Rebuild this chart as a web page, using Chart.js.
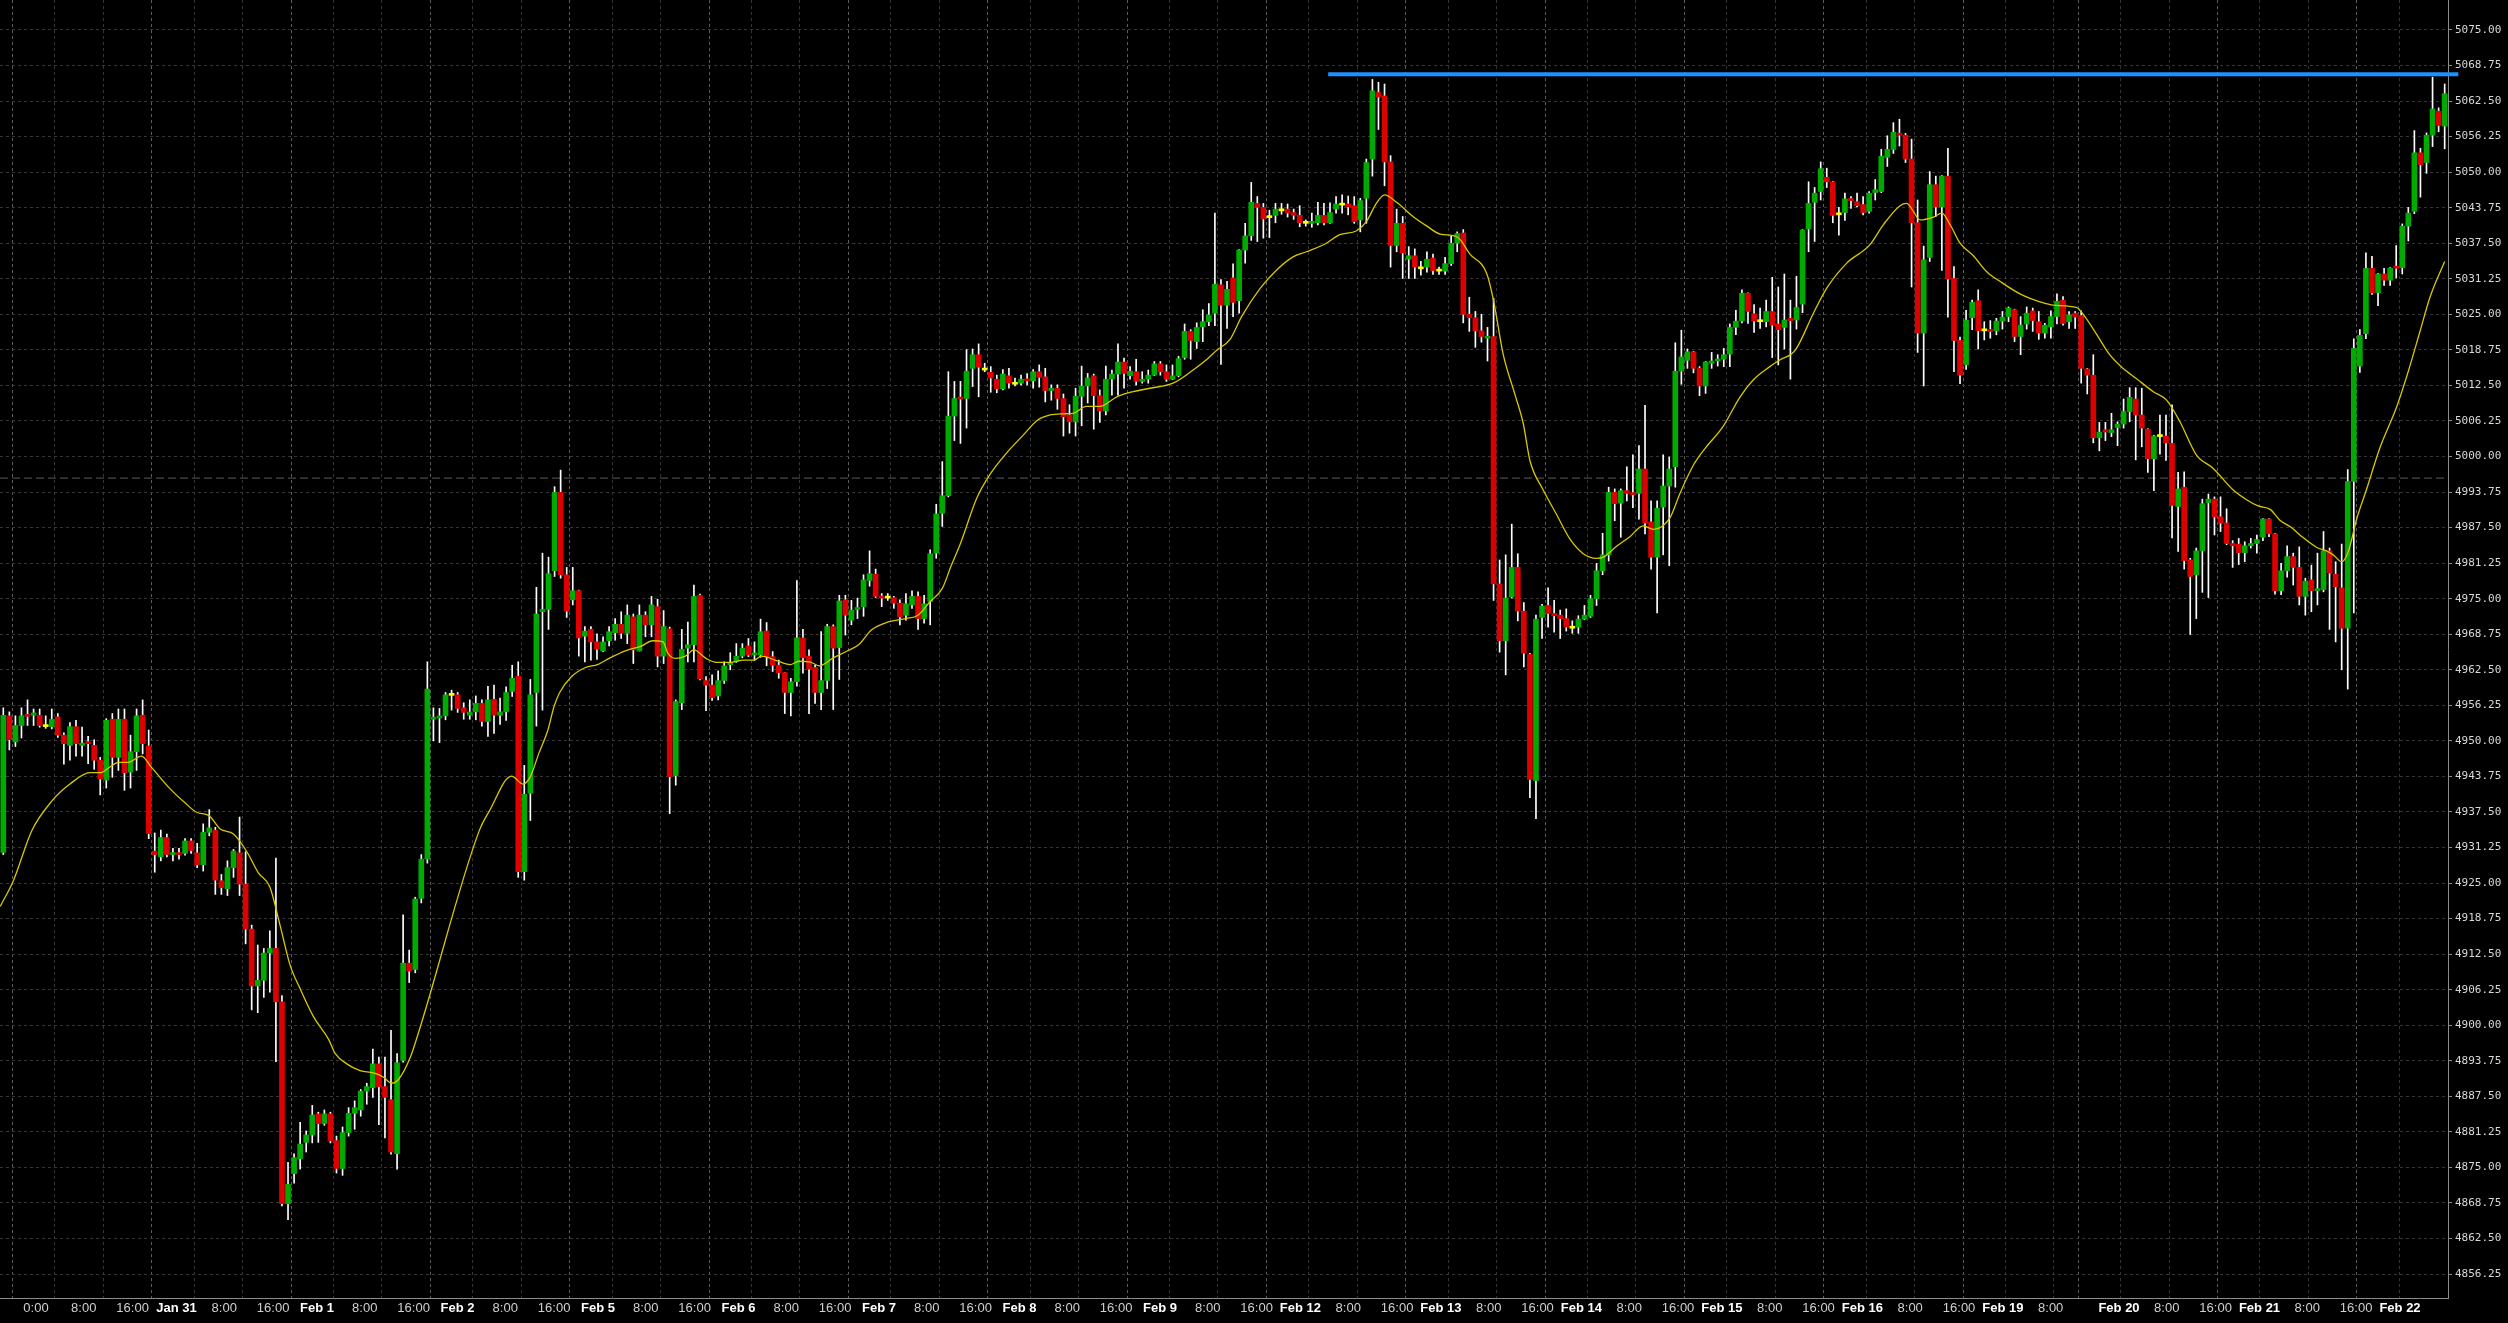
<!DOCTYPE html>
<html>
<head>
<meta charset="utf-8">
<script src="https://cdn.jsdelivr.net/npm/chart.js@4.4.0/dist/chart.umd.min.js"></script>
<style>
  html, body { margin: 0; padding: 0; background: #000; }
  canvas { display: block; background: #000; }
</style>
</head>
<body>
<canvas id="chart" width="2508" height="1323"></canvas>
<script>
// hourly candles, one row per session (first row also holds the two bars before Jan 30)
var opens = [
  4930.4,4954.4,4949.8,4952.7,4954.5,4954.5,4954.5,4952.5,4952.5,4954.2,4951.0,4949.2,4952.5,4949.2,4949.8,4949.2,4946.6,4943.1,4953.8,4947.1,4953.8,4944.5,4948.1,4954.5,4949.1,
  4930.6,4929.6,4933.0,4930.0,4930.3,4930.2,4932.4,4930.3,4928.2,4933.9,4934.3,4925.4,4924.0,4927.7,4930.3,4924.8,4916.9,4906.9,4907.9,4912.7,4913.5,4904.1,4868.6,
  4873.9,4876.5,4879.4,4880.7,4884.4,4882.7,4884.4,4879.7,4874.8,4881.1,4884.5,4885.1,4888.4,4889.0,4893.2,4889.2,4886.9,4877.4,4893.8,4910.9,4909.8,4922.3,4929.2,
  4953.8,4954.0,4954.4,4958.0,4958.1,4955.8,4954.5,4955.1,4956.6,4953.4,4957.3,4954.5,4955.1,4958.7,4961.4,4927.0,4940.8,4958.5,4972.7,4973.1,4979.9,4993.7,4979.2,
  4974.8,4976.4,4968.4,4969.6,4967.4,4965.8,4967.6,4969.0,4970.5,4968.9,4971.8,4965.8,4972.1,4970.4,4973.6,4964.9,4969.7,4943.9,4956.7,4966.3,4966.9,4975.6,4960.6,
  4959.8,4957.9,4960.6,4963.4,4964.0,4964.9,4966.7,4965.1,4965.1,4969.3,4964.8,4963.3,4962.0,4958.5,4960.4,4968.1,4964.9,4962.9,4958.5,4960.6,4970.1,4966.4,4974.8,
  4971.2,4973.1,4973.6,4978.2,4979.3,4975.4,4975.1,4975.2,4974.2,4972.1,4973.9,4975.4,4971.5,4974.5,4983.0,4990.0,4993.1,5007.1,5010.4,5010.2,5015.5,5017.9,5015.2,
  5014.8,5013.6,5011.9,5014.2,5012.7,5012.9,5013.6,5013.3,5014.9,5014.0,5011.6,5012.0,5010.2,5007.3,5006.1,5010.6,5012.4,5014.2,5010.7,5008.0,5013.6,5014.5,5016.6,
  5014.2,5014.9,5013.2,5013.6,5014.3,5016.3,5014.9,5013.6,5014.2,5017.4,5022.0,5020.2,5022.8,5023.7,5025.2,5030.2,5026.6,5031.4,5027.4,5036.3,5038.8,5044.5,5043.8,
  5042.0,5042.4,5043.2,5043.5,5042.9,5042.4,5041.0,5041.0,5041.1,5042.4,5041.1,5043.5,5044.2,5044.4,5044.1,5041.6,5045.4,5052.3,5064.0,5063.4,5051.8,5037.1,5041.0,
  5034.7,5035.3,5033.0,5033.3,5034.9,5032.6,5032.6,5033.9,5037.5,5039.3,5025.0,5024.4,5022.1,5020.8,5021.1,4977.6,4967.6,4975.3,4980.5,4972.8,4965.2,4943.0,4971.7,
  4973.8,4972.4,4972.1,4971.5,4969.8,4970.0,4971.4,4971.9,4975.0,4979.9,4982.7,4993.7,4991.8,4994.0,4993.5,4993.5,4997.8,4988.5,4982.3,4991.1,4994.8,4998.2,5015.0,
  5016.9,5018.4,5015.5,5012.4,5016.4,5016.8,5017.1,5018.0,5022.7,5023.8,5028.7,5025.1,5023.7,5023.7,5025.5,5023.3,5022.7,5024.3,5024.0,5026.8,5040.0,5044.7,5046.6,
  5049.1,5048.3,5042.5,5042.9,5045.3,5044.8,5044.3,5043.1,5046.4,5046.6,5052.6,5054.0,5056.8,5056.5,5052.3,5041.1,5021.7,5035.0,5047.8,5043.9,5049.3,5031.3,5020.4,
  5016.1,5024.4,5027.4,5022.1,5022.3,5022.1,5023.8,5024.6,5025.8,5021.1,5023.3,5025.6,5023.7,5021.7,5022.8,5024.6,5027.5,5023.7,5025.2,
  5024.8,5015.4,5014.3,5003.3,5004.7,5004.2,5005.1,5005.7,5007.9,5010.1,5007.3,5004.8,4999.6,5003.5,5003.6,5002.3,4991.2,4994.6,4981.8,4979.2,4983.4,4991.9,4992.5,
  4989.4,4988.3,4984.7,4984.6,4983.1,4984.3,4984.7,4985.8,4989.0,4986.4,4976.4,4979.9,4982.4,4980.5,4975.4,4978.3,4976.4,4976.6,4983.4,4979.3,4976.9,4969.8,4995.6,
  5015.9,5021.6,5033.1,5028.8,5032.1,5031.0,5033.4,5033.2,5040.5,5043.1,5053.4,5051.7,5056.5,5060.7,5058.1
];
var highs = [
  4955.8,4955.1,4954.4,4955.8,4957.2,4955.6,4955.6,4954.4,4955.6,4954.8,4951.4,4953.2,4953.6,4952.4,4950.8,4950.2,4947.1,4953.9,4954.8,4955.6,4955.6,4951.0,4955.6,4957.2,4951.9,
  4933.8,4934.3,4933.6,4931.1,4931.1,4932.8,4932.8,4932.0,4935.4,4937.9,4934.8,4926.5,4928.9,4930.9,4936.6,4930.5,4917.6,4914.1,4913.5,4916.6,4929.4,4905.2,4875.9,
  4877.4,4882.9,4881.4,4885.9,4884.7,4885.1,4884.7,4880.5,4882.1,4885.5,4886.7,4888.7,4889.8,4895.8,4894.4,4894.4,4899.1,4895.0,4919.4,4913.2,4922.5,4930.0,4963.9,
  4955.8,4955.7,4958.5,4958.9,4958.5,4956.7,4957.2,4957.9,4957.2,4959.6,4959.8,4957.5,4959.5,4963.3,4963.9,4945.7,4960.8,4977.0,4983.0,4982.3,4994.7,4997.6,4980.5,
  4980.5,4976.5,4970.1,4970.1,4968.8,4968.3,4970.1,4971.5,4972.7,4973.9,4972.3,4973.9,4972.7,4975.4,4974.9,4972.9,4970.0,4957.2,4969.6,4970.9,4977.4,4975.8,4961.3,
  4961.6,4962.3,4963.9,4965.5,4967.1,4967.1,4968.0,4967.4,4971.4,4970.8,4965.7,4964.2,4962.0,4961.0,4978.2,4969.6,4966.0,4963.3,4969.2,4970.5,4970.4,4975.6,4975.6,
  4974.7,4975.1,4979.2,4983.4,4980.2,4975.9,4975.9,4975.4,4974.8,4975.9,4976.4,4976.2,4975.6,4983.6,4991.6,4999.1,5014.9,5013.2,5013.2,5018.8,5018.9,5019.8,5016.4,
  5015.8,5014.3,5015.3,5015.5,5013.8,5014.3,5014.6,5015.3,5016.1,5015.5,5012.6,5012.6,5011.0,5009.1,5012.0,5015.9,5014.6,5014.5,5011.7,5015.9,5015.2,5019.8,5017.3,
  5015.8,5017.1,5014.9,5015.2,5016.7,5016.7,5016.1,5016.1,5017.6,5023.3,5022.3,5023.5,5025.8,5026.9,5042.8,5031.1,5030.8,5033.9,5036.4,5041.0,5048.2,5045.7,5044.5,
  5043.3,5044.5,5044.5,5044.4,5043.5,5044.1,5041.6,5042.8,5044.7,5044.5,5044.6,5045.7,5046.0,5045.8,5045.7,5045.4,5052.3,5066.3,5065.8,5065.5,5052.9,5043.5,5042.2,
  5036.9,5036.5,5034.3,5036.0,5035.6,5033.3,5035.0,5038.8,5039.5,5039.9,5028.0,5025.5,5025.0,5022.7,5027.8,4981.8,4982.7,4988.1,4982.9,4974.3,4965.4,4972.1,4974.0,
  4976.9,4974.7,4973.0,4973.2,4971.1,4972.0,4973.8,4975.6,4981.2,4986.5,4994.6,4994.3,4994.3,4998.2,5000.3,5001.9,5009.0,4992.2,4992.2,5000.3,4999.9,5020.0,5022.2,
  5018.9,5018.5,5015.8,5016.7,5018.3,5017.9,5019.0,5023.3,5025.7,5029.3,5028.8,5026.7,5026.1,5027.5,5031.5,5029.8,5032.1,5027.5,5031.7,5039.9,5048.3,5047.3,5051.8,
  5050.7,5048.4,5043.8,5046.3,5045.7,5046.3,5045.7,5046.6,5048.7,5054.0,5056.4,5058.7,5059.3,5056.8,5055.8,5045.1,5037.0,5050.1,5049.3,5049.4,5054.2,5033.4,5021.0,
  5025.7,5027.5,5029.3,5023.7,5023.9,5024.3,5025.5,5026.3,5025.9,5024.6,5026.3,5026.1,5025.5,5023.4,5025.6,5028.6,5028.1,5025.5,5025.5,
  5025.6,5015.5,5017.9,5006.0,5006.0,5007.6,5006.1,5010.1,5012.1,5012.1,5012.0,5004.9,5003.7,5007.3,5007.3,5009.1,4997.2,4997.3,4982.1,4983.9,4992.5,4993.4,4992.9,
  4992.9,4990.8,4985.2,4985.6,4985.0,4985.6,4986.2,4989.1,4989.1,4986.5,4981.2,4984.3,4983.0,4984.1,4978.6,4980.9,4983.0,4986.8,4983.9,4981.5,4984.6,4997.7,5020.7,
  5022.3,5035.8,5035.2,5032.2,5033.1,5033.2,5037.1,5040.9,5043.8,5057.3,5054.2,5056.9,5066.7,5061.3,5065.5
];
var lows = [
  4930.0,4948.4,4949.0,4950.5,4952.7,4952.7,4952.4,4952.2,4952.1,4950.6,4945.9,4946.6,4947.3,4947.3,4946.0,4945.0,4940.5,4941.7,4943.6,4944.8,4941.3,4941.7,4944.8,4947.7,4932.8,
  4926.9,4928.9,4929.6,4928.9,4929.2,4929.9,4930.2,4927.7,4927.1,4933.3,4923.0,4923.0,4922.8,4926.0,4922.8,4914.3,4902.7,4902.2,4904.9,4905.8,4893.6,4868.2,4865.8,
  4872.2,4874.7,4877.7,4879.3,4879.4,4882.4,4879.3,4874.0,4873.6,4880.5,4881.7,4884.0,4886.1,4887.3,4882.5,4880.2,4877.3,4874.7,4893.5,4907.5,4909.2,4921.5,4928.5,
  4950.0,4949.7,4953.7,4955.4,4955.0,4953.8,4953.8,4953.7,4952.6,4950.8,4951.3,4952.9,4953.6,4957.8,4926.0,4925.5,4936.0,4952.6,4955.4,4969.6,4978.9,4978.6,4971.7,
  4973.9,4964.9,4963.9,4964.2,4964.3,4965.7,4966.7,4967.7,4968.0,4967.1,4963.6,4965.8,4968.3,4968.3,4963.0,4963.6,4937.2,4942.2,4955.5,4963.9,4963.9,4960.7,4955.3,
  4957.1,4957.2,4960.1,4962.5,4963.8,4964.6,4964.8,4964.2,4964.7,4963.2,4962.2,4961.0,4954.8,4954.4,4959.6,4961.9,4954.8,4956.6,4955.5,4959.2,4955.5,4960.8,4968.6,
  4970.4,4971.5,4971.9,4977.2,4975.2,4973.6,4974.7,4973.3,4970.4,4971.2,4973.3,4969.6,4970.7,4970.4,4982.1,4987.7,4992.9,5002.8,5002.3,5005.0,5012.3,5010.5,5014.9,
  5011.3,5011.2,5011.7,5012.0,5012.4,5012.6,5012.6,5012.0,5012.2,5009.6,5009.9,5008.3,5003.6,5004.1,5003.6,5005.4,5009.4,5004.8,5006.0,5007.3,5010.8,5010.8,5012.0,
  5013.6,5012.6,5012.9,5012.9,5014.2,5014.3,5013.2,5013.5,5014.0,5017.1,5017.1,5019.0,5020.2,5023.0,5023.0,5016.2,5022.5,5024.6,5025.2,5034.0,5038.0,5037.8,5038.4,
  5038.5,5041.1,5042.6,5042.1,5041.7,5040.4,5040.5,5040.3,5040.7,5040.7,5041.0,5042.8,5042.8,5042.5,5041.0,5039.5,5041.0,5049.3,5057.5,5047.6,5033.3,5036.0,5031.3,
  5031.3,5031.3,5031.9,5032.4,5032.0,5032.0,5032.0,5033.6,5036.0,5023.5,5022.0,5019.2,5020.1,5016.8,4974.7,4965.6,4961.6,4975.1,4971.1,4963.0,4940.0,4936.3,4968.0,
  4970.0,4969.1,4968.0,4969.3,4968.9,4968.9,4971.3,4971.7,4973.8,4979.2,4981.6,4988.7,4985.8,4992.2,4991.0,4989.0,4986.4,4980.2,4972.5,4982.7,4980.8,4994.6,5012.7,
  5015.5,5014.7,5010.7,5011.1,5015.5,5015.9,5015.8,5015.8,5021.4,5023.5,5023.4,5021.8,5022.5,5022.8,5017.4,5016.1,5018.9,5013.6,5022.4,5025.3,5036.0,5037.8,5045.1,
  5047.3,5041.1,5038.9,5041.5,5043.6,5043.9,5042.5,5042.8,5045.1,5046.4,5051.0,5053.3,5054.6,5051.7,5029.8,5018.3,5012.4,5034.3,5042.2,5032.7,5024.5,5014.9,5012.8,
  5015.3,5022.3,5018.9,5020.5,5020.8,5021.4,5022.4,5023.7,5020.2,5017.9,5022.4,5022.0,5020.6,5020.8,5020.8,5023.3,5023.1,5022.5,5022.5,
  5012.9,5011.0,5002.4,5001.0,5002.8,5003.5,5001.9,5005.0,5006.1,4999.4,5001.7,4997.2,4994.0,5000.4,4999.3,4985.7,4983.3,4980.2,4968.7,4971.5,4976.1,4975.2,4986.2,
  4986.8,4984.5,4980.5,4981.0,4981.5,4983.9,4983.0,4985.2,4985.9,4975.8,4975.7,4978.8,4977.4,4973.9,4972.1,4972.7,4973.9,4976.2,4969.6,4967.4,4962.5,4959.1,4972.5,
  5014.8,5020.7,5028.5,5026.5,5030.1,5030.1,5031.4,5032.1,5037.9,5042.7,5045.6,5049.8,5054.5,5057.1,5054.1
];
var closes = [
  4954.5,4950.2,4952.7,4954.4,4954.3,4954.9,4952.7,4952.5,4953.8,4951.0,4949.5,4952.5,4949.5,4949.6,4949.5,4946.6,4943.3,4953.6,4947.1,4953.8,4944.4,4948.1,4954.4,4949.5,4933.7,
  4930.0,4933.0,4930.0,4930.3,4930.0,4932.4,4930.7,4928.2,4933.9,4934.7,4925.5,4924.2,4927.7,4930.6,4924.8,4916.9,4906.9,4907.9,4912.7,4913.5,4904.1,4868.6,4872.0,
  4876.7,4879.1,4880.7,4884.2,4882.7,4884.4,4879.7,4874.8,4881.1,4884.5,4885.5,4888.4,4889.2,4893.2,4889.2,4887.3,4877.7,4893.4,4910.9,4909.5,4922.2,4929.2,4959.1,
  4954.1,4954.4,4958.1,4958.0,4955.7,4955.0,4955.1,4956.6,4953.4,4957.2,4954.5,4955.1,4958.5,4961.0,4927.0,4940.6,4958.1,4972.3,4973.1,4979.4,4993.7,4979.2,4972.8,
  4976.4,4968.1,4969.3,4967.4,4966.1,4967.4,4969.2,4970.5,4968.9,4972.1,4966.0,4972.1,4970.4,4973.9,4964.9,4970.1,4943.7,4956.9,4966.1,4966.9,4975.4,4960.9,4959.8,
  4957.6,4960.6,4963.2,4963.8,4964.9,4966.3,4965.1,4965.4,4969.2,4964.8,4963.3,4962.0,4958.5,4960.4,4968.1,4964.6,4962.6,4958.5,4960.6,4970.1,4966.3,4974.6,4972.1,
  4973.0,4973.4,4978.3,4979.4,4975.4,4975.1,4975.1,4974.2,4971.8,4974.1,4975.4,4971.5,4974.1,4982.9,4989.9,4993.1,5007.1,5010.2,5010.1,5015.0,5017.9,5015.7,5015.2,
  5013.8,5011.9,5014.5,5012.9,5012.7,5013.6,5013.3,5014.9,5013.9,5011.6,5012.0,5010.2,5007.0,5006.1,5010.6,5012.4,5013.8,5010.7,5008.0,5013.6,5014.5,5016.6,5014.6,
  5015.0,5013.2,5013.6,5014.3,5016.3,5014.9,5013.6,5014.2,5017.2,5022.0,5020.4,5022.7,5023.7,5024.9,5030.3,5026.6,5029.4,5027.1,5036.3,5038.8,5044.7,5043.8,5041.8,
  5042.0,5043.5,5043.2,5042.8,5042.4,5041.1,5041.0,5041.3,5042.4,5041.1,5042.9,5044.4,5044.2,5043.9,5041.3,5045.0,5051.7,5064.3,5063.2,5051.8,5037.1,5041.0,5035.8,
  5035.3,5033.3,5033.0,5034.7,5032.7,5032.6,5033.9,5037.5,5039.2,5025.0,5024.4,5022.1,5021.1,5021.1,4977.6,4967.6,4975.1,4980.5,4972.8,4965.4,4943.2,4971.4,4973.7,
  4972.4,4972.0,4971.5,4970.0,4969.8,4971.4,4972.1,4975.0,4979.9,4982.7,4993.7,4991.7,4994.0,4993.5,4993.3,4997.8,4988.3,4982.3,4990.9,4994.8,4997.8,5015.0,5017.5,
  5018.4,5015.5,5012.4,5016.6,5016.8,5017.1,5017.9,5022.7,5023.8,5028.7,5025.5,5023.8,5023.7,5025.5,5023.1,5022.3,5024.0,5023.9,5026.2,5039.8,5044.5,5046.3,5050.6,
  5048.3,5042.4,5042.5,5045.3,5045.0,5044.1,5042.9,5046.3,5046.9,5052.8,5054.0,5057.0,5056.5,5052.3,5041.1,5021.7,5034.6,5047.8,5043.9,5049.3,5031.2,5020.4,5014.3,
  5024.0,5027.1,5022.1,5022.1,5022.0,5023.8,5024.5,5026.1,5021.1,5023.1,5025.2,5023.9,5021.7,5023.1,5024.6,5027.3,5023.4,5024.9,5024.5,
  5015.5,5014.3,5003.3,5004.3,5004.3,5004.7,5005.7,5007.9,5010.4,5007.3,5005.0,4999.6,5003.6,5003.5,5002.4,4991.4,4994.3,4981.7,4978.9,4983.4,4991.7,4992.5,4989.4,
  4988.3,4984.7,4984.3,4983.1,4984.3,4984.7,4985.4,4989.0,4986.4,4976.4,4979.9,4982.4,4980.5,4975.4,4978.1,4976.4,4976.6,4983.4,4979.5,4977.1,4969.8,4995.6,5019.0,
  5021.3,5033.1,5028.8,5032.1,5031.0,5033.1,5033.1,5040.5,5042.8,5053.4,5051.3,5056.5,5061.1,5058.2,5063.8
];

// yellow moving average at these bar positions
var maBars = [
  -0.5,1.7,4.7,8,11,14.3,16,17.6,19,20.6,22.8,24.5,27.5,30,32,33.9,35.8,38,40.2,42.1,44,45.7,47.3,49,51.2,53.7,54.8,56.7,58.9,61.1,62.7,64.1,65.2,67.2,68.8,
  78.6,80.2,83.9,85.8,87,88.4,89.9,90.9,91.8,93.8,96.1,98.1,100,102.9,105.2,107.2,108.9,109.7,110.9,112.6,114,116,117.7,120.2,122.2,124,125.1,127.4,129.9,131.3,133.1,134.7,137,139.3,141.3,143.3,146.1,149,151,153,155,156.4,158,
  160.7,162.9,165.6,168.4,170.6,172.8,175,176.6,178.8,181,183.8,186.5,189.3,193.1,196.4,198.6,200.3,202.5,204.4,207.5,210.2,212.9,215.1,218.4,220.6,223.4,225,226.7,228,230,
  232.8,235,237.2,240,242.1,244.9,246,247.6,249.5,250.9,252,254.2,256.4,258.6,260.8,263,264.1,266.3,268.5,270.7,272.4,275.1,276.8,279,
  280.9,283.9,286.7,288.9,291.6,293.3,295.8,298.8,301,304.3,308.1,310.3,313.1,314.2,315,316.4,318.6,320,321.4,323,325.2,327.4,329.6,
  332.9,336.2,338.4,342.2,343.6,345.6,347.7,349.9,352.1,354.9,357.1,359.3,362,364.8,368.1,370.3,372.2,374.2,375.8,377.7,379.1,381.9,383.5,384.6,386,
  387.1,388.5,390.1,392.3,395.1,397,398.9,400.6,403
];
var maValues = [
  4920.9,4925.5,4934.2,4939.4,4942.4,4944.4,4944.4,4945.4,4946.2,4946.2,4947.3,4945.3,4941.6,4939.1,4937.4,4936.9,4934.5,4933.6,4930.5,4926.8,4924.3,4917.5,4910.7,4906.4,4901.5,4897.5,4895.0,4893.2,4892.0,4891.6,4890.9,4889.8,4890.4,4894.4,4899.6,
  4934.3,4937.6,4943.8,4942.4,4943.7,4947.8,4951.9,4956.0,4958.4,4961.3,4962.9,4963.4,4964.5,4965.9,4966.6,4967.6,4967.4,4965.4,4964.5,4964.9,4966.0,4964.5,4963.8,4963.8,4964.2,4964.2,4964.9,4964.2,4963.4,4964.0,4963.9,4963.2,4964.6,4965.8,4967.0,4969.5,4970.9,4971.5,4972.1,4974.5,4976.8,4980.6,4984.7,
  4992.7,4996.9,5000.6,5003.8,5006.3,5007.3,5007.5,5007.6,5008.8,5008.8,5010.5,5011.4,5012.0,5012.9,5015.2,5017.0,5018.7,5020.6,5024.6,5029.6,5032.8,5035.1,5036.0,5037.5,5039.0,5039.7,5041.3,5044.6,5046.0,5044.7,
  5042.1,5040.5,5039.1,5038.6,5035.6,5032.1,5027.4,5017.9,5011.0,5005.8,4999.3,4994.1,4989.8,4985.5,4982.9,4982.1,4982.3,4984.2,4985.9,4987.8,4987.2,4989.2,4993.6,4998.5,
  5001.4,5005.3,5010.5,5013.5,5015.8,5017.0,5018.7,5025.2,5029.6,5034.0,5037.2,5040.7,5044.1,5044.5,5043.6,5041.6,5042.1,5042.8,5040.7,5037.5,5035.3,5032.5,5030.8,
  5028.6,5027.2,5026.6,5026.2,5024.6,5021.4,5017.9,5015.5,5013.7,5011.4,5009.9,5006.1,5000.3,4997.9,4994.1,4992.4,4991.3,4990.7,4988.8,4987.5,4986.2,4984.0,4983.4,4982.7,4981.5,
  4983.3,4989.1,4994.2,5001.5,5008.8,5015.0,5021.9,5028.1,5034.3
];

// time axis: first bar of each session, and the 8:00 / 16:00 bars
var dayStarts = [2, 25, 48, 71, 94, 117, 140, 163, 186, 209, 232, 255, 278, 301, 324, 343, 366, 389];
var dayLabels = ["0:00", "Jan 31", "Feb 1", "Feb 2", "Feb 5", "Feb 6", "Feb 7", "Feb 8", "Feb 9",
                 "Feb 12", "Feb 13", "Feb 14", "Feb 15", "Feb 16", "Feb 19", "Feb 20", "Feb 21", "Feb 22"];
var hourTicks = [9, 17, 32, 40, 55, 63, 78, 86, 101, 109, 124, 132, 147, 155, 170, 178, 193, 201, 216, 224,
                 239, 247, 262, 270, 285, 293, 308, 316, 331, 350, 358, 373, 381];
var hourLabels = ["8:00", "16:00", "8:00", "16:00", "8:00", "16:00", "8:00", "16:00", "8:00", "16:00", "8:00", "16:00",
                  "8:00", "16:00", "8:00", "16:00", "8:00", "16:00", "8:00", "16:00", "8:00", "16:00", "8:00", "16:00",
                  "8:00", "16:00", "8:00", "16:00", "8:00", "8:00", "16:00", "8:00", "16:00"];
var unlabelledTicks = [339, 396];

var priceTicks = [4856.25, 4862.5, 4868.75, 4875, 4881.25, 4887.5, 4893.75, 4900, 4906.25, 4912.5, 4918.75, 4925,
                  4931.25, 4937.5, 4943.75, 4950, 4956.25, 4962.5, 4968.75, 4975, 4981.25, 4987.5, 4993.75, 5000,
                  5006.25, 5012.5, 5018.75, 5025, 5031.25, 5037.5, 5043.75, 5050, 5056.25, 5062.5, 5068.75, 5075];

var highLevel = 5067.2;      // blue horizontal line
var highLevelFrom = 218.7;   // bar where it starts
var dashedLevel = 4996.2;    // grey dashed horizontal line

if (opens.length !== closes.length || highs.length !== closes.length || lows.length !== closes.length ||
    maBars.length !== maValues.length || hourTicks.length !== hourLabels.length) {
  throw new Error("length mismatch " + [opens.length, highs.length, lows.length, closes.length, maBars.length, maValues.length, hourTicks.length, hourLabels.length]);
}

var GREEN = '#00aa00', RED = '#dd0000', DOJI = '#ffff00';
var xMin = -0.545, xMax = 403.55;

// the terminal spreads its time labels slightly wider than the bars and puts them right of the grid line
function labelPos(bar) { return 28.59 + 1.00834 * (bar - 25); }

var bars = closes.map(function (c, i) { return i; });
var gridBars = dayStarts.concat(hourTicks, unlabelledTicks);

function buildXTicks() {
  var t = [];
  gridBars.forEach(function (b) {
    t.push({ value: b - 0.5, kind: dayStarts.indexOf(b) >= 0 ? 'day' : 'hour', text: '' });
  });
  dayStarts.forEach(function (b, i) {
    t.push({ value: labelPos(b), kind: i === 0 ? 'time' : 'date', text: dayLabels[i] });
  });
  hourTicks.forEach(function (b, i) {
    t.push({ value: labelPos(b) + 0.825, kind: 'time', text: hourLabels[i] });
  });
  return t.sort(function (a, b) { return a.value - b.value; });
}

Chart.defaults.font.family = 'Liberation Sans';

var ctx = document.getElementById('chart').getContext('2d');
var chart = new Chart(ctx, {
  type: 'bar',
  data: {
    datasets: [
      {
        type: 'line',
        data: [{ x: xMin, y: dashedLevel }, { x: xMax, y: dashedLevel }],
        borderColor: '#5a5a5a',
        borderWidth: 1,
        borderDash: [8, 4],
        pointRadius: 0,
        order: 5
      },
      {
        data: bars.map(function (i) { return { x: i, y: [lows[i], highs[i]] }; }),
        backgroundColor: '#ffffff',
        barThickness: 1,
        grouped: false,
        order: 4
      },
      {
        data: bars.map(function (i) { return { x: i, y: [opens[i], closes[i]] }; }),
        backgroundColor: bars.map(function (i) {
          return closes[i] > opens[i] ? GREEN : (closes[i] < opens[i] ? RED : DOJI);
        }),
        barThickness: 5,
        minBarLength: 2,
        grouped: false,
        order: 3
      },
      {
        type: 'line',
        data: maBars.map(function (b, i) { return { x: b, y: maValues[i] }; }),
        borderColor: '#d8c800',
        borderWidth: 1.3,
        pointRadius: 0,
        cubicInterpolationMode: 'monotone',
        order: 2
      },
      {
        type: 'line',
        data: [{ x: highLevelFrom, y: highLevel }, { x: xMax + 1.7, y: highLevel }],
        borderColor: '#1e90ff',
        borderWidth: 4,
        pointRadius: 0,
        clip: { left: 0, top: 5, right: 12, bottom: 0 },
        order: 1
      }
    ]
  },
  options: {
    responsive: false,
    devicePixelRatio: 1,
    animation: false,
    events: [],
    layout: { padding: 0 },
    plugins: { legend: { display: false }, tooltip: { enabled: false } },
    scales: {
      x: {
        type: 'linear',
        position: 'bottom',
        min: xMin,
        max: xMax,
        offset: false,
        grid: {
          offset: false,
          drawTicks: false,
          color: function (c) {
            if (!c.tick) return '#363636';
            if (c.tick.kind === 'day') return '#5c5c5c';
            if (c.tick.kind === 'hour') return '#363636';
            return 'rgba(0,0,0,0)';
          }
        },
        border: { color: '#8c8c8c', dash: [3, 3] },
        ticks: {
          autoSkip: false, maxRotation: 0, minRotation: 0, padding: 3,
          color: function (c) { return c.tick && c.tick.kind === 'date' ? '#ffffff' : '#d0d0d0'; },
          font: function (c) {
            return { family: 'Liberation Sans', size: 13, weight: c.tick && c.tick.kind === 'date' ? 'bold' : 'normal' };
          },
          callback: function (v, i, ticks) { return ticks[i].text; }
        },
        afterBuildTicks: function (s) { s.ticks = buildXTicks(); },
        afterFit: function (s) { s.height = 25; s.paddingLeft = 0; s.paddingRight = 0; }
      },
      y: {
        type: 'linear',
        position: 'right',
        min: 4852.03,
        max: 5080.27,
        grid: { color: '#363636', drawTicks: true, tickLength: 4, tickColor: '#8c8c8c' },
        border: { color: '#8c8c8c', dash: [3, 3] },
        ticks: {
          padding: 3,
          color: '#d8d8d8',
          font: { family: 'DejaVu Sans Mono', size: 11 },
          callback: function (v) { return Number(v).toFixed(2); }
        },
        afterBuildTicks: function (s) { s.ticks = priceTicks.map(function (v) { return { value: v }; }); },
        afterFit: function (s) { s.width = 60; s.paddingTop = 0; s.paddingBottom = 0; }
      }
    }
  }
});
</script>
</body>
</html>
